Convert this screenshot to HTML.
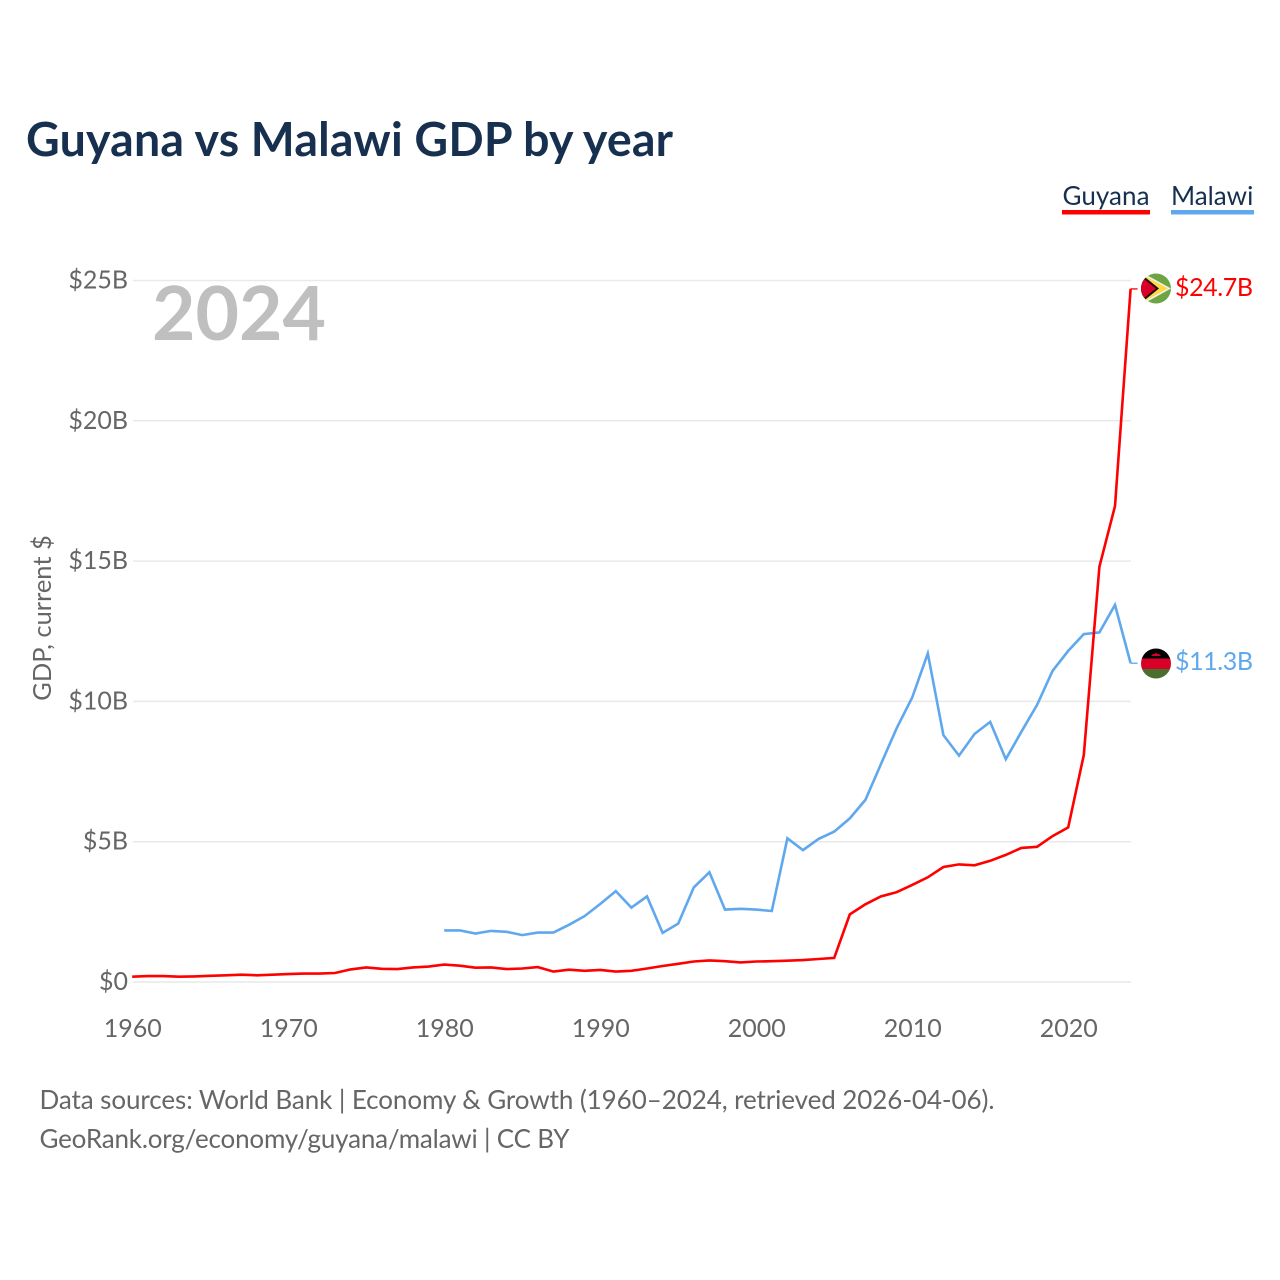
<!DOCTYPE html>
<html lang="en">
<head>
<meta charset="utf-8">
<title>Guyana vs Malawi GDP by year</title>
<style>
html,body{margin:0;padding:0;background:#fff;width:1280px;height:1280px;overflow:hidden}
svg{display:block}
text{font-family:"Lato","Carlito","Liberation Sans",sans-serif}
</style>
</head>
<body>
<svg id="chart" xmlns="http://www.w3.org/2000/svg" width="1280" height="1280" viewBox="0 0 1280 1280">
  <rect width="1280" height="1280" fill="#fff"/>
  <text x="26" y="156" font-size="46.5" font-weight="700" fill="#17304f" textLength="647">Guyana vs Malawi GDP by year</text>
  <g id="grid"></g>
  <g id="yticks"></g>
  <g id="xticks"></g>
  <text transform="translate(51 618) rotate(-90)" text-anchor="middle" font-size="25.5" fill="#666">GDP, current $</text>
  <text x="152" y="340" font-size="75" font-weight="700" fill="#bfbfbf">2024</text>
  <g id="series"></g>

  <g>
    <text x="1062.5" y="205" font-size="26" fill="#17304f" textLength="87">Guyana</text>
    <rect x="1062" y="210" width="88" height="4.5" fill="#ff0000"/>
  </g>
  <g>
    <text x="1171" y="205" font-size="26" fill="#17304f">Malawi</text>
    <rect x="1171" y="210" width="83" height="4.5" fill="#5fa8ee"/>
  </g>

  <defs>
    <clipPath id="clipG"><circle cx="1156" cy="288.5" r="15"/></clipPath>
    <clipPath id="clipM"><circle cx="1156" cy="663.5" r="15"/></clipPath>
  </defs>
  <g clip-path="url(#clipG)">
    <rect x="1141" y="273" width="30" height="31" fill="#6da544"/>
    <polygon points="1143,273 1171,288.5 1143,304" fill="#f0f0f0"/>
    <polygon points="1145,276 1168,288.5 1145,301" fill="#ffda44"/>
    <polygon points="1141,274 1159,288.5 1141,303" fill="#111"/>
    <polygon points="1141,276.5 1156,288.5 1141,300.5" fill="#d80027"/>
  </g>
  <g clip-path="url(#clipM)">
    <rect x="1141" y="648" width="30" height="11" fill="#000"/>
    <rect x="1141" y="658.5" width="30" height="10.5" fill="#d80027"/>
    <rect x="1141" y="669" width="30" height="10" fill="#496e2d"/>
    <path d="M1151 656 h10 l-2 -2 h-2 l-1 -2 l-1 2 h-2 z" fill="#d80027"/>
  </g>
  <text x="1175" y="296" font-size="25" fill="#ff0000" textLength="78">$24.7B</text>
  <text x="1175" y="670" font-size="25" fill="#5fa8ee" textLength="78">$11.3B</text>

  <text x="39.5" y="1109" font-size="26" fill="#666" textLength="955">Data sources: World Bank | Economy &amp; Growth (1960–2024, retrieved 2026-04-06).</text>
  <text x="39.5" y="1148" font-size="26" fill="#666" textLength="530">GeoRank.org/economy/guyana/malawi | CC BY</text>
</svg>
<script>
const guyanaStartYear = 1960;
const guyanaValues = [0.19,0.21,0.21,0.19,0.20,0.22,0.24,0.26,0.24,0.26,0.28,0.30,0.30,0.32,0.45,0.52,0.47,0.46,0.52,0.55,0.62,0.58,0.51,0.52,0.46,0.48,0.53,0.37,0.44,0.40,0.43,0.37,0.40,0.48,0.57,0.65,0.73,0.77,0.74,0.70,0.73,0.74,0.76,0.78,0.82,0.86,2.41,2.77,3.05,3.20,3.46,3.73,4.10,4.19,4.16,4.32,4.53,4.78,4.82,5.20,5.51,8.09,14.8,16.96,24.7];
const malawiStartYear = 1980;
const malawiValues = [1.84,1.84,1.73,1.82,1.79,1.67,1.76,1.76,2.04,2.35,2.78,3.24,2.65,3.05,1.75,2.08,3.37,3.91,2.58,2.61,2.58,2.53,5.12,4.70,5.10,5.36,5.83,6.49,7.77,9.04,10.14,11.71,8.80,8.07,8.84,9.27,7.94,8.92,9.87,11.09,11.80,12.40,12.46,13.44,11.36];
const yTickValues = [0,5,10,15,20,25];
const yTickLabels = ["$0","$5B","$10B","$15B","$20B","$25B"];
const xTickValues = [1960,1970,1980,1990,2000,2010,2020];

const NS = "http://www.w3.org/2000/svg";
function xScale(year){ return 132.2 + (year - 1960) * 15.6; }
function yScale(v){ return 982 - v * 28.06; }

function make(tag, attrs, parent, text){
  const el = document.createElementNS(NS, tag);
  for (const k in attrs) el.setAttribute(k, attrs[k]);
  if (text !== undefined) el.textContent = text;
  parent.appendChild(el);
  return el;
}

const gridG = document.getElementById("grid");
const yG = document.getElementById("yticks");
const xG = document.getElementById("xticks");
const seriesG = document.getElementById("series");

yTickValues.forEach(function(v, i){
  const line = make("line", {x1:133, x2:1131, y1:yScale(v), y2:yScale(v), stroke:"#e9e9e9", "stroke-width":1.5}, gridG);
  
  
  const label = make("text", {x:128, y:yScale(v) + 8, "text-anchor":"end", "font-size":25, fill:"#666"}, yG, yTickLabels[i]);
  
  
});

xTickValues.forEach(function(year){
  const label = make("text", {x:xScale(year) + 0.6, y:1037, "text-anchor":"middle", "font-size":25, fill:"#666"}, xG, String(year));
  
  
});

function seriesPoints(startYear, values){
  return values.map(function(v, i){
    return xScale(startYear + i).toFixed(1) + "," + yScale(v).toFixed(1);
  }).join(" ");
}

function addLeader(startYear, values, color, name){
  const lastX = xScale(startYear + values.length - 1);
  const lastY = yScale(values[values.length - 1]);
  const leader = make("line", {x1:lastX, x2:lastX + 7, y1:lastY, y2:lastY, stroke:color, "stroke-width":1.3}, seriesG);
  
  
}

const malawiLine = make("polyline", {points:seriesPoints(malawiStartYear, malawiValues), fill:"none", stroke:"#5fa8ee", "stroke-width":2.6, "stroke-linejoin":"miter"}, seriesG);


addLeader(malawiStartYear, malawiValues, "#5fa8ee", "malawi-label-leader");

const guyanaLine = make("polyline", {points:seriesPoints(guyanaStartYear, guyanaValues), fill:"none", stroke:"#ff0000", "stroke-width":2.6, "stroke-linejoin":"miter"}, seriesG);


addLeader(guyanaStartYear, guyanaValues, "#ff0000", "guyana-label-leader");
</script>
</body>
</html>
